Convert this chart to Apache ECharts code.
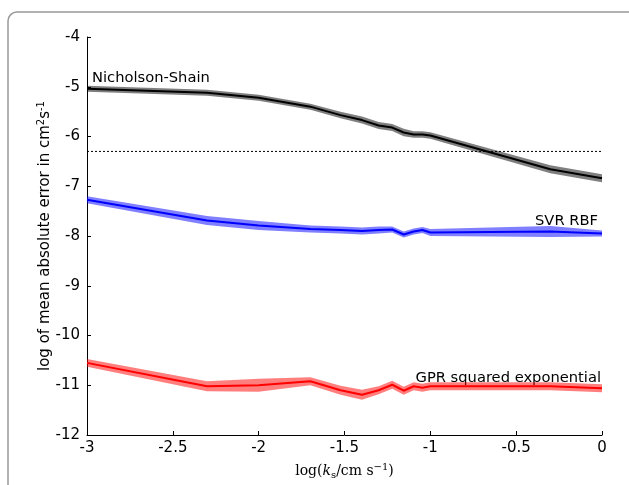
<!DOCTYPE html>
<html>
<head>
<meta charset="utf-8">
<script src="https://cdn.jsdelivr.net/npm/echarts@6/dist/echarts.min.js"></script>
<style>
html,body{margin:0;padding:0;background:#fff;}
#chart{width:629px;height:485px;}
</style>
</head>
<body>
<div id="chart"></div>
<script>
// log10 of k_s values (0.001, 0.005, 0.01 ... 0.1, 0.5, 1)
var logKs = [-3, -2.301, -2, -1.699, -1.523, -1.398, -1.301, -1.222, -1.155, -1.097, -1.046, -1, -0.301, 0];

var nicholsonMean = [-5.04, -5.12, -5.22, -5.40, -5.57, -5.67, -5.78, -5.82, -5.92, -5.96, -5.96, -5.98, -6.66, -6.84];
var nicholsonErr  = [0.06, 0.06, 0.06, 0.06, 0.065, 0.07, 0.07, 0.07, 0.075, 0.065, 0.065, 0.065, 0.08, 0.08];

var svrMean = [-7.27, -7.69, -7.79, -7.86, -7.88, -7.90, -7.88, -7.87, -7.97, -7.91, -7.88, -7.93, -7.91, -7.95];
var svrErr  = [0.07, 0.09, 0.09, 0.07, 0.07, 0.07, 0.07, 0.06, 0.06, 0.06, 0.06, 0.07, 0.11, 0.06];

var gprMean = [-10.55, -11.02, -11.00, -10.92, -11.10, -11.19, -11.10, -10.99, -11.11, -11.02, -11.05, -11.02, -11.02, -11.06];
var gprErr  = [0.08, 0.10, 0.13, 0.08, 0.09, 0.10, 0.08, 0.08, 0.08, 0.08, 0.08, 0.08, 0.08, 0.08];

var threshold = -6.3;

var xTicks = [-3, -2.5, -2, -1.5, -1, -0.5, 0];
var yTicks = [-12, -11, -10, -9, -8, -7, -6, -5, -4];

var seriesNames = ['Nicholson-Shain', 'SVR RBF', 'GPR squared exponential'];

function pairs(ys) { return logKs.map(function (x, i) { return [x, ys[i]]; }); }

function bandSeries(mean, err, color) {
  var data = logKs.map(function (x, i) { return [x, mean[i] - err[i], mean[i] + err[i]]; });
  return {
    type: 'custom',
    silent: true,
    z: 1,
    data: data,
    encode: { x: 0, y: [1, 2] },
    renderItem: function (params, api) {
      if (params.dataIndex !== 0) return null;
      var upper = [], lower = [];
      for (var i = 0; i < data.length; i++) {
        upper.push(api.coord([data[i][0], data[i][2]]));
        lower.push(api.coord([data[i][0], data[i][1]]));
      }
      var pts = upper.concat(lower.reverse());
      return {
        type: 'polygon',
        shape: { points: pts },
        style: { fill: color, opacity: 0.5, stroke: null }
      };
    }
  };
}

function lineSeries(name, mean, color) {
  return {
    name: name,
    type: 'line',
    z: 3,
    data: pairs(mean),
    showSymbol: false,
    symbol: 'none',
    lineStyle: { color: color, width: 2 },
    animation: false
  };
}

var chart = echarts.init(document.getElementById('chart'), null, { renderer: 'canvas' });

var option = {
  animation: false,
  backgroundColor: '#fff',
  grid: { left: 87, right: 27, top: 37, bottom: 42, containLabel: false },
  xAxis: {
    type: 'value',
    min: xTicks[0], max: xTicks[xTicks.length - 1], interval: 0.5,
    name: '{t|log(}{i|k}{s|s}{t|/cm s}{p|−1}{t|)}',
    nameLocation: 'middle',
    nameGap: 27,
    nameMoveOverlap: false,
    nameTextStyle: {
      rich: {
        t: { fontFamily: 'DejaVu Serif', fontSize: 14, color: '#000' },
        i: { fontFamily: 'DejaVu Serif', fontStyle: 'italic', fontSize: 14, color: '#000' },
        s: { fontFamily: 'DejaVu Serif', fontSize: 10, color: '#000', verticalAlign: 'bottom', padding: [8, 0, 0, 0] },
        p: { fontFamily: 'DejaVu Serif', fontSize: 10, color: '#000', verticalAlign: 'top', padding: [0, 0, 8, 0] }
      }
    },
    axisLine: { show: true, onZero: false, lineStyle: { color: '#000', width: 1 } },
    axisTick: { show: true, inside: true, length: 4, lineStyle: { color: '#000' } },
    axisLabel: { color: '#000', fontFamily: 'DejaVu Sans', fontSize: 15, margin: 6,
      formatter: function (v) { return String(v); } },
    splitLine: { show: false }
  },
  yAxis: {
    type: 'value',
    min: yTicks[0], max: yTicks[yTicks.length - 1], interval: 1,
    name: '{t|log of mean absolute error in cm}{p|2}{t|s}{p|-1}',
    nameLocation: 'middle',
    nameGap: 33,
    nameMoveOverlap: false,
    nameRotate: 90,
    nameTextStyle: {
      rich: {
        t: { fontFamily: 'DejaVu Sans', fontSize: 15, color: '#000' },
        p: { fontFamily: 'DejaVu Sans', fontSize: 10, color: '#000', verticalAlign: 'top', padding: [0, 0, 8, 0] }
      }
    },
    axisLine: { show: true, onZero: false, lineStyle: { color: '#000', width: 1 } },
    axisTick: { show: true, inside: true, length: 4, lineStyle: { color: '#000' } },
    axisLabel: { color: '#000', fontFamily: 'DejaVu Sans', fontSize: 15, margin: 7,
      formatter: function (v) { return String(v); } },
    splitLine: { show: false }
  },
  graphic: [
    { type: 'rect', shape: { x: 8, y: 12, width: 700, height: 600, r: 9 },
      style: { fill: null, stroke: '#999', lineWidth: 1.5 }, z: -10, silent: true },
    { type: 'text', left: 92, top: 71, style: { text: seriesNames[0], fontFamily: 'DejaVu Sans', fontSize: 14.7, fill: '#000' } },
    { type: 'text', right: 31, top: 214, style: { text: seriesNames[1], fontFamily: 'DejaVu Sans', fontSize: 14.7, fill: '#000' } },
    { type: 'text', right: 28, top: 371, style: { text: seriesNames[2], fontFamily: 'DejaVu Sans', fontSize: 14.7, fill: '#000' } }
  ],
  series: [
    bandSeries(nicholsonMean, nicholsonErr, '#000000'),
    bandSeries(svrMean, svrErr, '#0000ff'),
    bandSeries(gprMean, gprErr, '#ff0000'),
    lineSeries(seriesNames[0], nicholsonMean, '#000000'),
    lineSeries(seriesNames[1], svrMean, '#0000ff'),
    lineSeries(seriesNames[2], gprMean, '#ff0000'),
    {
      type: 'line',
      z: 2,
      data: [[xTicks[0], threshold], [xTicks[xTicks.length - 1], threshold]],
      symbol: 'none',
      lineStyle: { color: '#000', width: 1, type: [2, 2] }
    }
  ]
};
chart.setOption(option);
</script>
</body>
</html>
